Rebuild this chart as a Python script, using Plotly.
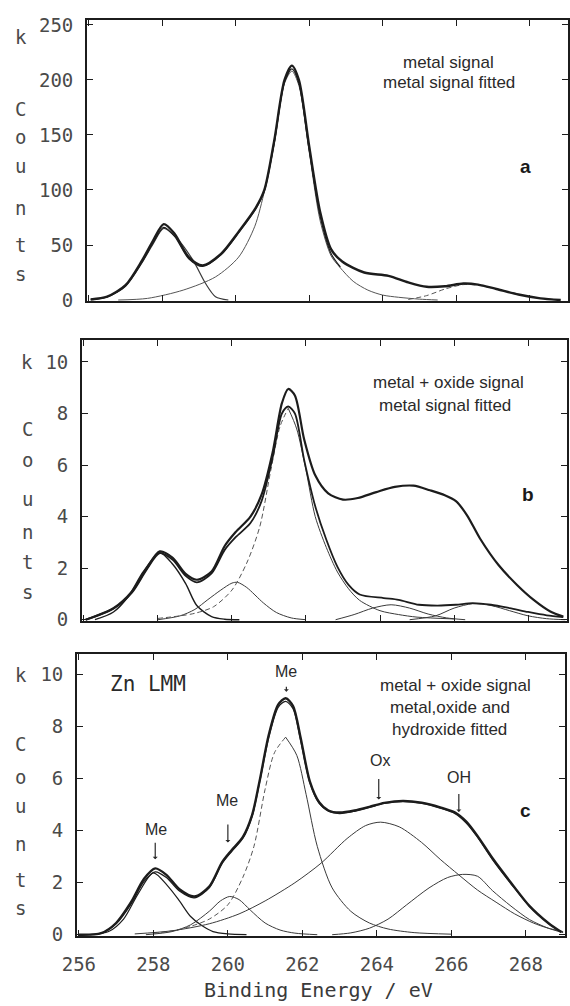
import plotly.graph_objects as go

# ---------------- data ----------------
# Panel a : metal signal (counts)
a_meas_E = [256.05, 256.5, 257.0, 257.45, 257.75, 258.04, 258.33, 258.72, 259.1, 259.6, 260.1, 260.55, 260.78, 261.05, 261.33, 261.53, 261.72, 262.0, 262.3, 262.6, 262.9, 263.5, 264.16, 264.7, 265.2, 265.7, 266.2, 266.6, 267.1, 267.7, 268.3, 268.85]
a_meas_V = [0.5, 3, 13.5, 36, 54, 69, 60.5, 39, 31.5, 42, 63, 84, 100, 145, 200, 213, 200, 140, 80, 46, 35, 25, 22, 16, 12, 12.5, 15, 14, 10, 5, 1.5, 0]
a_fit_E = [256.05, 256.5, 257.0, 257.45, 257.75, 258.04, 258.33, 258.72, 259.1, 259.6, 260.1, 260.55, 260.78, 261.05, 261.33, 261.53, 261.72, 262.0, 262.3, 262.6, 262.85]
a_fit_V = [0.5, 2.8, 13, 34.5, 52, 66, 58, 37.5, 30.5, 41, 62, 83, 99, 143, 198, 210, 197, 137, 76, 42, 30]
a_me1_E = [256.1, 256.5, 257.0, 257.45, 257.75, 258.04, 258.4, 258.84, 259.18, 259.45, 259.8]
a_me1_V = [0.3, 3, 12.5, 34, 51, 65, 56, 36, 15, 3, 0]
a_main_E = [256.8, 257.6, 258.57, 259.45, 260.08, 260.52, 260.79, 261.05, 261.33, 261.53, 261.72, 262.0, 262.3, 262.6, 262.83, 263.2, 263.6, 264.0, 264.43, 265.0, 265.5]
a_main_V = [0, 1.5, 9, 21, 39, 67, 100, 142, 197, 208, 195, 135, 72, 40, 30, 17, 9, 4.5, 2.5, 0.8, 0]
a_bump_E = [264.7, 265.2, 265.7, 266.2, 266.6, 267.1, 267.7, 268.3, 268.85]
a_bump_V = [0.5, 4, 10, 14, 13.5, 10, 5, 1.5, 0]

# Panel b : metal + oxide signal, metal fitted (k counts)
b_meas_E = [256.05, 256.8, 257.3, 257.7, 258.05, 258.4, 258.75, 259.05, 259.45, 259.8, 260.1, 260.5, 260.8, 261.1, 261.35, 261.52, 261.7, 261.95, 262.25, 262.6, 263.0, 263.4, 263.9, 264.4, 264.9, 265.35, 265.75, 266.05, 266.35, 266.7, 267.2, 267.7, 268.15, 268.6, 268.95]
b_meas_V = [0.0, 0.45, 1.1, 2.0, 2.65, 2.4, 1.78, 1.55, 1.87, 2.85, 3.4, 4.0, 4.85, 6.5, 8.4, 8.95, 8.7, 7.0, 5.6, 4.9, 4.66, 4.72, 4.95, 5.15, 5.2, 5.02, 4.83, 4.6, 4.05, 3.15, 2.12, 1.35, 0.77, 0.32, 0.12]
b_fit_E = [256.05, 256.8, 257.3, 257.7, 258.05, 258.4, 258.75, 259.05, 259.45, 259.8, 260.1, 260.5, 260.8, 261.1, 261.35, 261.52, 261.7, 261.95, 262.25, 262.55, 262.85, 263.15, 263.45, 264.1, 264.5, 265.05, 265.55, 266.05, 266.5, 267.0, 267.5, 268.0, 268.5, 268.95]
b_fit_V = [0.0, 0.43, 1.05, 1.95, 2.58, 2.32, 1.7, 1.45, 1.8, 2.7, 3.2, 3.75, 4.6, 6.3, 8.0, 8.27, 8.0, 6.2, 4.4, 3.1, 2.05, 1.35, 0.98, 0.84, 0.77, 0.58, 0.55, 0.58, 0.64, 0.58, 0.45, 0.3, 0.17, 0.1]
b_me1_E = [256.3, 256.8, 257.2, 257.6, 258.05, 258.4, 258.75, 259.05, 259.45, 259.8, 260.2]
b_me1_V = [0.0, 0.3, 0.9, 1.85, 2.6, 2.15, 1.4, 0.55, 0.12, 0.02, 0.0]
b_me2_E = [258.0, 258.6, 259.0, 259.35, 259.7, 260.0, 260.15, 260.4, 260.85, 261.2, 261.6, 262.0]
b_me2_V = [0.0, 0.15, 0.4, 0.78, 1.15, 1.42, 1.45, 1.25, 0.65, 0.28, 0.07, 0.0]
b_main_E = [258.0, 258.6, 259.0, 259.5, 260.0, 260.4, 260.75, 261.05, 261.3, 261.52, 261.75, 262.0, 262.25, 262.55, 262.85, 263.15, 263.45, 264.0, 264.5, 265.0, 266.0]
b_main_V = [0.05, 0.15, 0.25, 0.5, 1.15, 2.2, 3.6, 5.8, 7.5, 8.2, 7.4, 5.8, 4.0, 2.8, 1.85, 1.2, 0.75, 0.35, 0.2, 0.1, 0.03]
b_s1_E = [262.8, 263.3, 263.8, 264.3, 264.8, 265.3, 265.8, 266.3]
b_s1_V = [0.0, 0.2, 0.45, 0.58, 0.45, 0.22, 0.07, 0.0]
b_s2_E = [264.8, 265.5, 266.0, 266.5, 267.0, 267.5, 268.0, 268.5, 269.0]
b_s2_V = [0.0, 0.15, 0.45, 0.62, 0.55, 0.35, 0.15, 0.04, 0.0]

# Panel c : metal + oxide signal, metal/oxide/hydroxide fitted (k counts)
c_meas_E = [256.0, 256.6, 257.0, 257.4, 257.75, 258.05, 258.35, 258.7, 259.1, 259.5, 259.85, 260.1, 260.4, 260.65, 260.85, 261.1, 261.35, 261.55, 261.75, 261.95, 262.2, 262.45, 262.7, 263.0, 263.4, 263.8, 264.2, 264.7, 265.2, 265.7, 266.1, 266.4, 266.7, 267.1, 267.6, 268.1, 268.6, 268.95]
c_meas_V = [0.0, 0.06, 0.45, 1.25, 2.15, 2.55, 2.3, 1.75, 1.47, 1.85, 2.8, 3.25, 3.75, 4.6, 5.9, 7.7, 8.85, 9.1, 8.8, 7.6, 5.9, 5.1, 4.78, 4.7, 4.78, 4.92, 5.07, 5.15, 5.08, 4.9, 4.7, 4.35, 3.8, 2.95, 2.0, 1.1, 0.45, 0.1]
c_fit_V = [0.0, 0.05, 0.42, 1.18, 2.05, 2.42, 2.2, 1.68, 1.42, 1.8, 2.75, 3.2, 3.7, 4.55, 5.85, 7.6, 8.75, 8.98, 8.7, 7.5, 5.85, 5.05, 4.75, 4.66, 4.75, 4.9, 5.05, 5.12, 5.05, 4.87, 4.66, 4.3, 3.76, 2.9, 1.96, 1.08, 0.44, 0.1]
c_me1_E = [256.3, 256.8, 257.2, 257.6, 258.0, 258.4, 258.7, 259.0, 259.3, 259.6, 260.0, 260.5]
c_me1_V = [0.0, 0.12, 0.6, 1.6, 2.38, 1.85, 1.3, 0.7, 0.35, 0.12, 0.03, 0.0]
c_me2_E = [257.8, 258.5, 259.0, 259.5, 259.8, 260.05, 260.3, 260.6, 261.0, 261.4, 261.8, 262.4]
c_me2_V = [0.0, 0.12, 0.38, 0.9, 1.3, 1.47, 1.35, 0.95, 0.45, 0.18, 0.06, 0.0]
c_main_E = [258.0, 258.6, 259.0, 259.5, 260.0, 260.4, 260.7, 261.0, 261.25, 261.55, 261.85, 262.1, 262.4, 262.8, 263.3, 263.8, 264.3, 265.0, 266.0]
c_main_V = [0.05, 0.17, 0.32, 0.6, 1.15, 2.2, 3.4, 5.6, 7.0, 7.6, 6.9, 5.4, 3.4, 1.8, 0.9, 0.45, 0.22, 0.08, 0.02]
c_ox_E = [257.5, 258.5, 259.5, 260.3, 261.0, 261.8, 262.5, 263.2, 263.7, 264.1, 264.6, 265.2, 265.7, 266.2, 266.7, 267.2, 267.7, 268.2, 268.6, 269.0]
c_ox_V = [0.03, 0.15, 0.42, 0.8, 1.3, 2.0, 2.75, 3.7, 4.2, 4.33, 4.15, 3.55, 2.9, 2.3, 1.72, 1.25, 0.8, 0.45, 0.25, 0.12]
c_oh_E = [262.8, 263.3, 263.8, 264.3, 264.8, 265.4, 265.9, 266.3, 266.7, 267.1, 267.6, 268.1, 268.6, 269.0]
c_oh_V = [0.0, 0.07, 0.25, 0.6, 1.15, 1.8, 2.2, 2.32, 2.25, 1.7, 1.1, 0.58, 0.25, 0.08]

x_ticks = [256, 258, 260, 262, 264, 266, 268]
a_ticks = [0, 50, 100, 150, 200, 250]
bc_ticks = [0, 2, 4, 6, 8, 10]

# ---------------- figure ----------------
W, H = 570, 1006
DARK = "#1c1c1c"
THIN = "#3a3a3a"
MONO = "DejaVu Sans Mono"
SANS = "Liberation Sans"

fig = go.Figure()


def add(x, y, xa, ya, width, color, dash="solid"):
    fig.add_trace(go.Scatter(
        x=x, y=y, xaxis=xa, yaxis=ya, mode="lines",
        line=dict(width=width, color=color, dash=dash, shape="spline", smoothing=0.8),
        showlegend=False, hoverinfo="skip"))


def peak_index(v):
    return v.index(max(v))


# panel a
add(a_me1_E, a_me1_V, "x", "y", 1.2, THIN)
add(a_main_E, a_main_V, "x", "y", 1.0, "#555")
add(a_bump_E, a_bump_V, "x", "y", 1.0, "#555", "5px,3px")
add(a_fit_E, a_fit_V, "x", "y", 1.2, DARK)
add(a_meas_E, a_meas_V, "x", "y", 2.4, DARK)

# panel b
add(b_me1_E, b_me1_V, "x2", "y2", 1.4, DARK)
add(b_me2_E, b_me2_V, "x2", "y2", 1.0, THIN)
ib = peak_index(b_main_V)
add(b_main_E[:ib + 1], b_main_V[:ib + 1], "x2", "y2", 1.0, "#555", "5px,3px")
add(b_main_E[ib:], b_main_V[ib:], "x2", "y2", 1.0, THIN)
add(b_s1_E, b_s1_V, "x2", "y2", 1.0, THIN)
add(b_s2_E, b_s2_V, "x2", "y2", 1.0, THIN)
add(b_fit_E, b_fit_V, "x2", "y2", 1.8, DARK)
add(b_meas_E, b_meas_V, "x2", "y2", 2.2, DARK)

# panel c
add(c_me1_E, c_me1_V, "x3", "y3", 1.2, DARK)
add(c_me2_E, c_me2_V, "x3", "y3", 1.0, THIN)
ic = peak_index(c_main_V)
add(c_main_E[:ic + 1], c_main_V[:ic + 1], "x3", "y3", 1.0, "#555", "5px,3px")
add(c_main_E[ic:], c_main_V[ic:], "x3", "y3", 1.0, THIN)
add(c_ox_E, c_ox_V, "x3", "y3", 1.0, THIN)
add(c_oh_E, c_oh_V, "x3", "y3", 1.0, THIN)
add(c_meas_E, c_fit_V, "x3", "y3", 1.3, DARK)
add(c_meas_E, c_meas_V, "x3", "y3", 2.4, DARK)


def dx(l, r):
    return [l / W, r / W]


def dy(top, bottom):
    return [1 - bottom / H, 1 - top / H]


tickfont = dict(family=MONO, size=19, color="#4a4a4a")
common_x = dict(range=[255.95, 269.05], tickvals=x_ticks, ticks="inside", ticklen=6,
                tickwidth=1.2, tickcolor=DARK, showline=True, mirror="ticks",
                linecolor=DARK, linewidth=1.8, showgrid=False, zeroline=False,
                tickfont=tickfont, automargin=False)
common_y = dict(ticks="inside", ticklen=6, tickwidth=1.2, tickcolor=DARK,
                showline=True, mirror="ticks", linecolor=DARK, linewidth=1.8,
                showgrid=False, zeroline=False, tickfont=tickfont, ticklabelstandoff=8,
                automargin=False)

fig.update_layout(
    width=W, height=H, margin=dict(l=0, r=0, t=0, b=0, autoexpand=False),
    paper_bgcolor="white", plot_bgcolor="white", showlegend=False,
    xaxis=dict(common_x, domain=dx(87, 568), anchor="y", showticklabels=False),
    xaxis2=dict(common_x, domain=dx(82, 567), anchor="y2", showticklabels=False),
    xaxis3=dict(common_x, domain=dx(77, 565), anchor="y3", showticklabels=True,
                ticklabelstandoff=10),
    yaxis=dict(common_y, domain=dy(20, 301), range=[-0.9, 254.5], tickvals=a_ticks, anchor="x"),
    yaxis2=dict(common_y, domain=dy(340, 621), range=[-0.05, 10.85], tickvals=bc_ticks, anchor="x2"),
    yaxis3=dict(common_y, domain=dy(654, 936), range=[-0.05, 10.8], tickvals=bc_ticks, anchor="x3"),
)

ann = []
letter_font = dict(family=MONO, size=19, color="#4a4a4a")


def stack(xp, yref, vals):
    for ch, v in zip(["k", "C", "o", "u", "n", "t", "s"], vals):
        ann.append(dict(x=xp, y=v, xref="paper", yref=yref, text=ch, showarrow=False,
                        font=letter_font, xanchor="center", yanchor="middle"))


stack(21 / W, "y", [239, 174, 148, 122, 84, 50, 24])
stack(27 / W, "y2", [10.0, 7.4, 6.2, 4.7, 3.4, 2.25, 1.08])
stack(21 / W, "y3", [10.0, 7.35, 6.08, 4.95, 3.5, 2.1, 1.04])

sans = dict(family=SANS, size=17, color="#2a2a2a")
bold = dict(family=SANS, size=19, color="#1a1a1a")


def txt(x, y, xr, yr, s, font):
    ann.append(dict(x=x, y=y, xref=xr, yref=yr, text=s, showarrow=False, font=font,
                    xanchor="center", yanchor="middle"))


txt(265.8, 216, "x", "y", "metal signal", sans)
txt(265.8, 198, "x", "y", "metal signal fitted", sans)
txt(267.9, 121, "x", "y", "<b>a</b>", bold)

txt(265.85, 9.2, "x2", "y2", "metal + oxide signal", sans)
txt(265.75, 8.3, "x2", "y2", "metal signal fitted", sans)
txt(268.0, 4.85, "x2", "y2", "<b>b</b>", bold)

txt(266.1, 9.6, "x3", "y3", "metal + oxide signal", sans)
txt(265.95, 8.75, "x3", "y3", "metal,oxide and", sans)
txt(265.95, 7.9, "x3", "y3", "hydroxide fitted", sans)
txt(268.0, 4.76, "x3", "y3", "<b>c</b>", bold)
txt(257.85, 9.65, "x3", "y3", "Zn LMM", dict(family=MONO, size=21, color="#2a2a2a"))

lab = dict(family=SANS, size=16, color="#2a2a2a")
txt(258.08, 4.05, "x3", "y3", "Me", lab)
txt(259.97, 5.15, "x3", "y3", "Me", lab)
txt(261.57, 10.12, "x3", "y3", "Me", lab)
txt(264.08, 6.7, "x3", "y3", "Ox", lab)
txt(266.21, 6.05, "x3", "y3", "OH", lab)

for xe, y0, y1 in [(258.05, 3.6, 2.9), (260.0, 4.3, 3.55), (261.57, 9.6, 9.35),
                   (264.05, 6.05, 5.2), (266.2, 5.47, 4.72)]:
    ann.append(dict(x=xe, y=y1, ax=xe, ay=y0, xref="x3", yref="y3", axref="x3", ayref="y3",
                    text="", showarrow=True, arrowhead=1, arrowsize=0.7, arrowwidth=1.2,
                    arrowcolor="#2a2a2a"))

ann.append(dict(x=318 / W, y=1 - 990 / H, xref="paper", yref="paper",
                text="Binding Energy / eV", showarrow=False,
                font=dict(family=MONO, size=20, color="#3a3a3a"),
                xanchor="center", yanchor="middle"))

fig.update_layout(annotations=ann)
fig.write_html("out.html")
